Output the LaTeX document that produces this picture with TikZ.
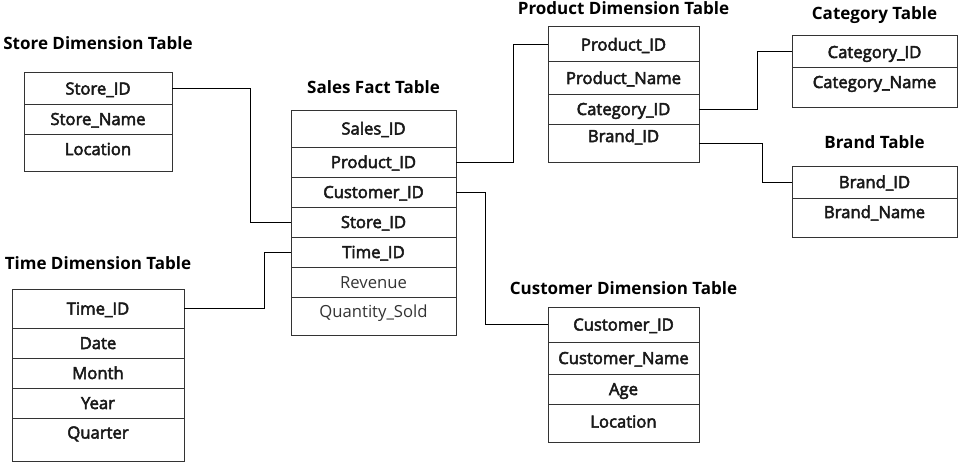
\documentclass[tikz,border=0pt]{standalone}
\usepackage{fontspec}
\setmainfont{Open Sans}
\newfontfamily\cellfont[FakeBold=3]{Open Sans}
\usetikzlibrary{positioning}

\begin{document}
\begin{tikzpicture}[x=0.75pt, y=-0.75pt,
    title/.style={font=\bfseries\fontsize{12.75}{15}\selectfont, inner sep=0pt, text height=8.5pt, text depth=2.5pt},
    row/.style={draw=black!80, line width=0.75pt, outer sep=0pt, inner sep=0pt, minimum height=22.5pt,
                text height=9pt, text depth=0pt, text=black!90, font=\cellfont\fontsize{12.5}{15}\selectfont},
    measure/.style={font=\fontsize{12.5}{15}\selectfont, text=black!80},
    storerow/.style={row, minimum width=111pt},
    salesrow/.style={row, minimum width=123.75pt},
    timerow/.style={row, minimum width=129pt},
    dimrow/.style={row, minimum width=113.25pt},
    smallrow/.style={row, minimum width=123.75pt},
    link/.style={draw=black, line width=0.75pt},
]
    \useasboundingbox (0,0) rectangle (963,467);

    % Store dimension
    \node[storerow, anchor=north west, minimum height=23.25pt] (store-id) at (24,73) {Store\_ID};
    \node[storerow, below=0pt of store-id] (store-name) {Store\_Name};
    \node[storerow, below=0pt of store-name, minimum height=27.75pt, text depth=5.2pt] (store-loc) {Location};
    \node[title, above=14.75pt of store-id] (store-title) {Store Dimension Table};

    % Sales fact
    \node[salesrow, anchor=north west, minimum height=27.75pt] (sales-id) at (291,110) {Sales\_ID};
    \node[salesrow, below=0pt of sales-id] (sales-prod) {Product\_ID};
    \node[salesrow, below=0pt of sales-prod] (sales-cust) {Customer\_ID};
    \node[salesrow, below=0pt of sales-cust] (sales-store) {Store\_ID};
    \node[salesrow, below=0pt of sales-store] (sales-time) {Time\_ID};
    \node[salesrow, measure, below=0pt of sales-time] (sales-rev) {Revenue};
    \node[salesrow, measure, below=0pt of sales-rev, minimum height=28.5pt, text depth=7.5pt] (sales-qty) {Quantity\_Sold};
    \node[title, above=9.5pt of sales-id] (sales-title) {Sales Fact Table};

    % Time dimension
    \node[timerow, anchor=north west, minimum height=29.25pt] (time-id) at (12,289) {Time\_ID};
    \node[timerow, below=0pt of time-id] (time-date) {Date};
    \node[timerow, below=0pt of time-date] (time-month) {Month};
    \node[timerow, below=0pt of time-month] (time-year) {Year};
    \node[timerow, below=0pt of time-year, minimum height=32.25pt, text depth=10.5pt] (time-qtr) {Quarter};
    \node[title, above=11.75pt of time-id] (time-title) {Time Dimension Table};

    % Product dimension
    \node[dimrow, anchor=north west, minimum height=26.25pt] (prod-id) at (548,27) {Product\_ID};
    \node[dimrow, below=0pt of prod-id, minimum height=24pt] (prod-name) {Product\_Name};
    \node[dimrow, below=0pt of prod-name] (prod-cat) {Category\_ID};
    \node[dimrow, below=0pt of prod-cat, minimum height=28.5pt, text depth=10.5pt] (prod-brand) {Brand\_ID};
    \node[title, above=6.5pt of prod-id] (prod-title) {Product Dimension Table};

    % Customer dimension
    \node[dimrow, anchor=north west, minimum height=26.25pt] (cust-id) at (548,307) {Customer\_ID};
    \node[dimrow, below=0pt of cust-id, minimum height=24pt] (cust-name) {Customer\_Name};
    \node[dimrow, below=0pt of cust-name] (cust-age) {Age};
    \node[dimrow, below=0pt of cust-age, minimum height=28.5pt, text depth=2.2pt] (cust-loc) {Location};
    \node[title, above=6.5pt of cust-id] (cust-title) {Customer Dimension Table};

    % Category and brand
    \node[smallrow, anchor=north west, minimum height=24pt] (cat-id) at (792,36) {Category\_ID};
    \node[smallrow, below=0pt of cat-id, minimum height=29.25pt, text depth=8.25pt] (cat-name) {Category\_Name};
    \node[title, above=9.5pt of cat-id] (cat-title) {Category Table};

    \node[smallrow, anchor=north west, minimum height=24pt] (brand-id) at (792,166) {Brand\_ID};
    \node[smallrow, below=0pt of brand-id, minimum height=29.25pt, text depth=8.25pt] (brand-name) {Brand\_Name};
    \node[title, above=10.25pt of brand-id] (brand-title) {Brand Table};

    % Keys
    \draw[link] (store-id.east) -- ++(78,0) |- (sales-store.west);
    \draw[link] (time-id.east) -- ++(80,0) |- (sales-time.west);
    \draw[link] (sales-prod.east) -- ++(57,0) |- (prod-id.west);
    \draw[link] (sales-cust.east) -- ++(29,0) |- (cust-id.west);
    \draw[link] (prod-cat.east) -- ++(58,0) |- (cat-id.west);
    \draw[link] (prod-brand.east) -- ++(63,0) |- (brand-id.west);
\end{tikzpicture}
\end{document}
